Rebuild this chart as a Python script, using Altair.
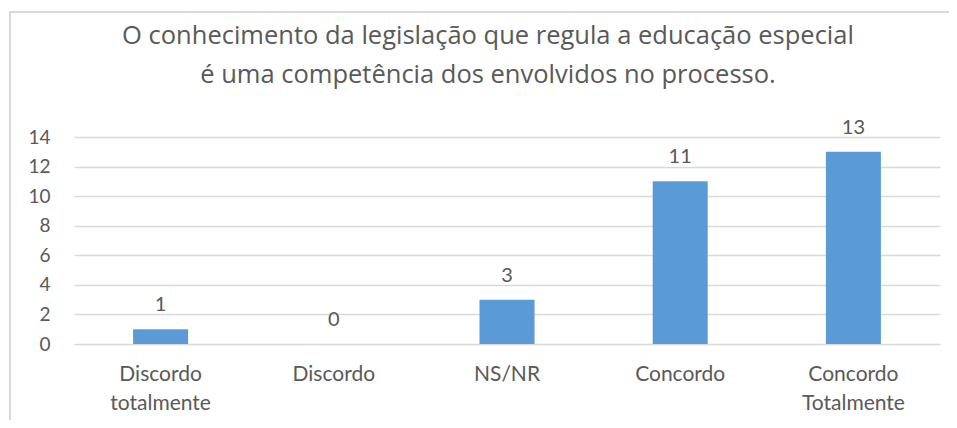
import altair as alt
import pandas as pd

categories = ["Discordo totalmente", "Discordo", "NS/NR", "Concordo", "Concordo Totalmente"]
values = [1, 0, 3, 11, 13]
y_ticks = [0, 2, 4, 6, 8, 10, 12, 14]
title_lines = ["O conhecimento da legislação que regula a educação especial",
               "é uma competência dos envolvidos no processo."]

df = pd.DataFrame({"cat": categories, "val": values})

FONT = "Lato"
TFONT = "Open Sans"
TXT = "#595959"
GRID = "#D9D9D9"

base = alt.Chart(df).encode(
    x=alt.X("cat:N", sort=None, title=None,
            scale=alt.Scale(paddingInner=0.0, paddingOuter=0.0),
            axis=alt.Axis(labelAngle=0, labelExpr="split(datum.value, ' ')",
                          labelFont=FONT, labelFontSize=21, labelColor=TXT,
                          labelPadding=19, labelLineHeight=29, ticks=False,
                          domain=True, domainColor=GRID, grid=False)),
    y=alt.Y("val:Q", title=None,
            scale=alt.Scale(domain=[0, 14], nice=False),
            axis=alt.Axis(values=y_ticks, labelFont=FONT, labelFontSize=19,
                          labelColor=TXT, labelPadding=24, ticks=False,
                          domain=False, gridColor=GRID, gridWidth=1.5)),
)

bars = base.mark_bar(size=55, color="#5B9BD5")
labels = base.mark_text(baseline="bottom", dy=-14, font=FONT, fontSize=20, color=TXT).encode(
    text="val:Q")

border = alt.Chart(pd.DataFrame({"a": [0]})).mark_rect(
    fill=None, stroke=GRID, strokeWidth=2
).encode(x=alt.value(-64), x2=alt.value(900), y=alt.value(-125), y2=alt.value(300))

title1 = alt.Chart(pd.DataFrame({"t": [title_lines[0]]})).mark_text(
    font=TFONT, fontSize=25.5, color=TXT, align="center", baseline="middle"
).encode(text="t:N", x=alt.value(414), y=alt.value(-101))
title2 = alt.Chart(pd.DataFrame({"t": [title_lines[1]]})).mark_text(
    font=TFONT, fontSize=25.5, color=TXT, align="center", baseline="middle"
).encode(text="t:N", x=alt.value(414), y=alt.value(-62))

chart = alt.layer(border, bars, labels, title1, title2).properties(
    width=866, height=207,
    autosize=alt.AutoSizeParams(type="none"),
    padding={"left": 66, "top": 129, "right": 9, "bottom": 76},
).configure_view(stroke=None)

chart.save("out.html", embed_options={"renderer": "svg", "actions": False})
